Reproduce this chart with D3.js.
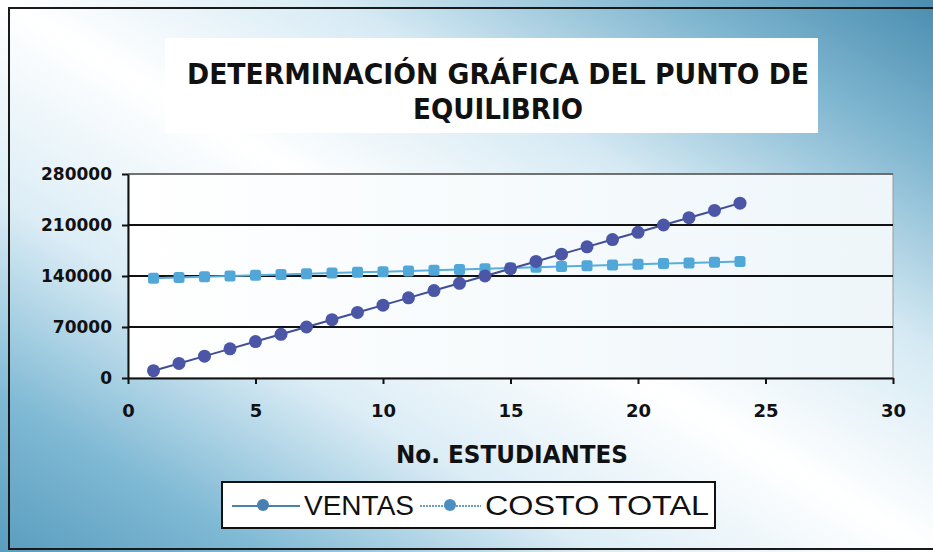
<!DOCTYPE html>
<html>
<head>
<meta charset="utf-8">
<script src="https://cdn.jsdelivr.net/npm/d3@7"></script>
<style>
  body { margin: 0; background: #fff; }
  svg { display: block; }
  .axis path, .axis line { stroke: #111; stroke-width: 2; }
  .axis text { font-family: "DejaVu Sans", sans-serif; font-weight: bold; fill: #111; }
</style>
</head>
<body>
<div id="chart"></div>
<script>
// data
var students = [1, 2, 3, 4, 5, 6, 7, 8, 9, 10, 11, 12, 13, 14, 15, 16, 17, 18, 19, 20, 21, 22, 23, 24];
var ventas = [10000, 20000, 30000, 40000, 50000, 60000, 70000, 80000, 90000, 100000, 110000, 120000,
	130000, 140000, 150000, 160000, 170000, 180000, 190000, 200000, 210000, 220000, 230000, 240000];
var costoTotal = [137000, 138000, 139000, 140000, 141000, 142000, 143000, 144000, 145000, 146000, 147000, 148000,
	149000, 150000, 151000, 152000, 153000, 154000, 155000, 156000, 157000, 158000, 159000, 160000];
var yTicks = [0, 70000, 140000, 210000, 280000];
var xTicks = [0, 5, 10, 15, 20, 25, 30];
var seriesNames = ["VENTAS", "COSTO TOTAL"];

var W = 933, H = 552;
var margin = { top: 174, right: 40, bottom: 174, left: 128 };
var width = 893 - margin.left;
var height = 378 - margin.top;

var svg = d3.select("#chart").append("svg")
	.attr("width", W)
	.attr("height", H);

var defs = svg.append("defs");

//background gradient: teal in bottom-left and top-right, white across the other diagonal
var bg = defs.append("linearGradient")
	.attr("id", "bgGrad")
	.attr("x1", 0).attr("y1", 1).attr("x2", 1).attr("y2", 0);
[[0, "#5a9dbf"], [0.14, "#7fb9d4"], [0.32, "#dcedf6"], [0.5, "#ffffff"], [0.68, "#d6eaf4"], [0.86, "#7eb5cf"], [1, "#4a8db0"]]
	.forEach(function(s) { bg.append("stop").attr("offset", s[0]).attr("stop-color", s[1]); });

var pg = defs.append("linearGradient")
	.attr("id", "plotGrad")
	.attr("x1", 0).attr("y1", 0).attr("x2", 1).attr("y2", 0);
pg.append("stop").attr("offset", 0).attr("stop-color", "#ffffff");
pg.append("stop").attr("offset", 1).attr("stop-color", "#eef6fa");

svg.append("rect")
	.attr("x", 0).attr("y", 0).attr("width", W).attr("height", H)
	.attr("fill", "url(#bgGrad)");

//chart border (right edge is cut off in the scan)
svg.append("rect")
	.attr("x", 9).attr("y", 8).attr("width", 940).attr("height", 541)
	.attr("fill", "none")
	.attr("stroke", "#1a1a1a")
	.attr("stroke-width", 2);

//title box
svg.append("rect")
	.attr("x", 165).attr("y", 38).attr("width", 653).attr("height", 95)
	.attr("fill", "#ffffff");

var title = svg.append("g")
	.style("font-family", "'DejaVu Sans', sans-serif")
	.style("font-weight", "bold")
	.style("font-size", "28px")
	.attr("fill", "#111");
title.append("text")
	.attr("x", 498).attr("y", 84)
	.attr("text-anchor", "middle")
	.attr("textLength", 622)
	.attr("lengthAdjust", "spacingAndGlyphs")
	.text("DETERMINACIÓN GRÁFICA DEL PUNTO DE");
title.append("text")
	.attr("x", 498).attr("y", 119)
	.attr("text-anchor", "middle")
	.attr("textLength", 170)
	.attr("lengthAdjust", "spacingAndGlyphs")
	.text("EQUILIBRIO");

var g = svg.append("g")
	.attr("transform", "translate(" + margin.left + "," + margin.top + ")");

//Scales
var x = d3.scaleLinear().domain([0, 30]).range([0, width]);
var y = d3.scaleLinear().domain([0, 280000]).range([height, 0]);

//plot area
g.append("rect")
	.attr("width", width).attr("height", height)
	.attr("fill", "url(#plotGrad)")
	.attr("stroke", "#9a9a9a")
	.attr("stroke-width", 1);

//gridlines
g.selectAll(".grid")
	.data(yTicks.filter(function(d) { return d > 0; }))
	.enter().append("line")
	.attr("class", "grid")
	.attr("x1", 0).attr("x2", width)
	.attr("y1", function(d) { return y(d); })
	.attr("y2", function(d) { return y(d); })
	.attr("stroke", function(d) { return d === 280000 ? "#555" : "#111"; })
	.attr("stroke-width", function(d) { return d === 280000 ? 1.5 : 2.2; });

//axes
g.append("g")
	.attr("class", "axis")
	.call(d3.axisLeft(y).tickValues(yTicks).tickFormat(d3.format("d")).tickSize(6).tickSizeOuter(0).tickPadding(10))
	.selectAll("text")
	.style("font-size", "17px");

g.append("g")
	.attr("class", "axis")
	.attr("transform", "translate(0," + height + ")")
	.call(d3.axisBottom(x).tickValues(xTicks).tickSize(6).tickSizeOuter(0).tickPadding(20))
	.selectAll("text")
	.style("font-size", "18px");

//x axis title
svg.append("text")
	.attr("x", 512).attr("y", 463)
	.attr("text-anchor", "middle")
	.style("font-family", "'DejaVu Sans', sans-serif")
	.style("font-weight", "bold")
	.style("font-size", "25px")
	.attr("textLength", 232)
	.attr("lengthAdjust", "spacingAndGlyphs")
	.attr("fill", "#111")
	.text("No. ESTUDIANTES");

//series
var ventasData = students.map(function(d, i) { return { x: d, y: ventas[i] }; });
var costoData = students.map(function(d, i) { return { x: d, y: costoTotal[i] }; });

var line = d3.line()
	.x(function(d) { return x(d.x); })
	.y(function(d) { return y(d.y); });

g.append("path")
	.datum(costoData)
	.attr("fill", "none")
	.attr("stroke", "#5aaedb")
	.attr("stroke-width", 2)
	.attr("d", line);

g.selectAll(".costo")
	.data(costoData)
	.enter().append("rect")
	.attr("class", "costo")
	.attr("x", function(d) { return x(d.x) - 5.5; })
	.attr("y", function(d) { return y(d.y) - 5.5; })
	.attr("width", 11).attr("height", 11)
	.attr("rx", 2.5)
	.attr("fill", "#52a7d9");

g.append("path")
	.datum(ventasData)
	.attr("fill", "none")
	.attr("stroke", "#3f4e96")
	.attr("stroke-width", 2)
	.attr("d", line);

g.selectAll(".ventas")
	.data(ventasData)
	.enter().append("circle")
	.attr("class", "ventas")
	.attr("cx", function(d) { return x(d.x); })
	.attr("cy", function(d) { return y(d.y); })
	.attr("r", 6.5)
	.attr("fill", "#4b57a6");

//legend
var legend = svg.append("g").attr("transform", "translate(222,482)");
legend.append("rect")
	.attr("width", 493).attr("height", 46)
	.attr("fill", "#ffffff")
	.attr("stroke", "#111")
	.attr("stroke-width", 2);

legend.append("line")
	.attr("x1", 10).attr("x2", 78).attr("y1", 24).attr("y2", 24)
	.attr("stroke", "#4a7fb0").attr("stroke-width", 2);
legend.append("circle")
	.attr("cx", 41).attr("cy", 23).attr("r", 6)
	.attr("fill", "#4a7fb0");

legend.append("line")
	.attr("x1", 198).attr("x2", 259).attr("y1", 24).attr("y2", 24)
	.attr("stroke", "#6a9cc8").attr("stroke-width", 2)
	.attr("stroke-dasharray", "2,1");
legend.append("circle")
	.attr("cx", 228).attr("cy", 23).attr("r", 6)
	.attr("fill", "#4a8fc0");

legend.selectAll(".ltext")
	.data(seriesNames)
	.enter().append("text")
	.attr("class", "ltext")
	.attr("x", function(d, i) { return i === 0 ? 82 : 263; })
	.attr("y", 33)
	.attr("textLength", function(d, i) { return i === 0 ? 110 : 224; })
	.attr("lengthAdjust", "spacingAndGlyphs")
	.style("font-family", "'Liberation Sans', Arial, sans-serif")
	.style("font-size", "27px")
	.attr("fill", "#111")
	.text(function(d) { return d; });
</script>
</body>
</html>
